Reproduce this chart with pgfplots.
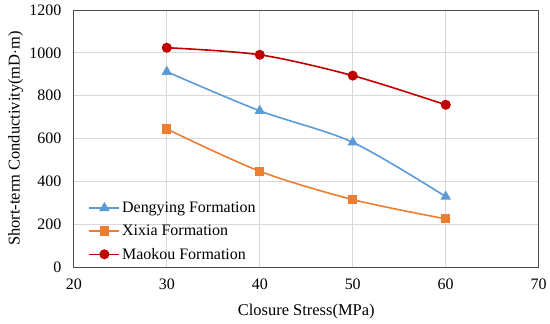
\documentclass[border=0pt]{standalone}
\usepackage{pgfplots}
\pgfplotsset{compat=1.18}
\usepackage{fontspec}
\setmainfont{Liberation Serif}
\definecolor{cblue}{HTML}{5B9BD5}
\definecolor{corange}{HTML}{ED7D31}
\definecolor{cred}{HTML}{C00000}
\definecolor{cgrid}{HTML}{D9D9D9}
\begin{document}
\begin{tikzpicture}
\begin{axis}[
  scale only axis,
  width=466pt, height=258pt,
  xmin=20, xmax=70, ymin=0, ymax=1200,
  xtick={20,30,...,70}, ytick={0,200,...,1200},
  grid=major,
  major grid style={cgrid, line width=0.9pt},
  axis line style={black!70, line width=0.9pt},
  tick style={draw=none},
  /pgf/number format/assume math mode=true,
  /pgf/number format/1000 sep={},
  ticklabel style={font=\fontsize{16}{18}\selectfont},
  yticklabel style={xshift=-9pt},
  xticklabel style={yshift=-8pt},
  label style={font=\fontsize{16.5}{18}\selectfont},
  xlabel={Closure Stress(MPa)},
  ylabel={Short-term Conductivity(mD$\cdot$m)},
  xlabel style={at={(axis description cs:0.5,-0.17)}, anchor=center},
  ylabel style={at={(axis description cs:-0.125,0.5)}, anchor=center},
  legend style={draw=none, fill=none, at={(axis description cs:0.025,0.01)}, anchor=south west,
    font=\fontsize{16}{18}\selectfont, row sep=7pt},
  legend cell align=left,
  legend image code/.code={\draw[mark repeat=2,mark phase=2] plot coordinates {(0pt,0pt) (15pt,0pt) (30pt,0pt)};},
]
\addplot[cblue, line width=1.6pt, smooth, mark=triangle*, mark size=4.5pt, mark options={fill=cblue}]
  coordinates {(30,912) (40,730) (50,583) (60,330)};
\addlegendentry{Dengying Formation}
\addplot[corange, line width=1.6pt, smooth, mark=square*, mark size=3.8pt, mark options={fill=corange}]
  coordinates {(30,645) (40,448) (50,316) (60,226)};
\addlegendentry{Xixia Formation}
\addplot[cred, line width=1.6pt, smooth, mark=*, mark size=4.2pt, mark options={fill=cred}]
  coordinates {(30,1024) (40,991) (50,894) (60,758)};
\addlegendentry{Maokou Formation}
\end{axis}
\path (current axis.south west) ++(-74pt,-56pt);
\path (current axis.north east) ++(11pt,10pt);
\end{tikzpicture}
\end{document}
